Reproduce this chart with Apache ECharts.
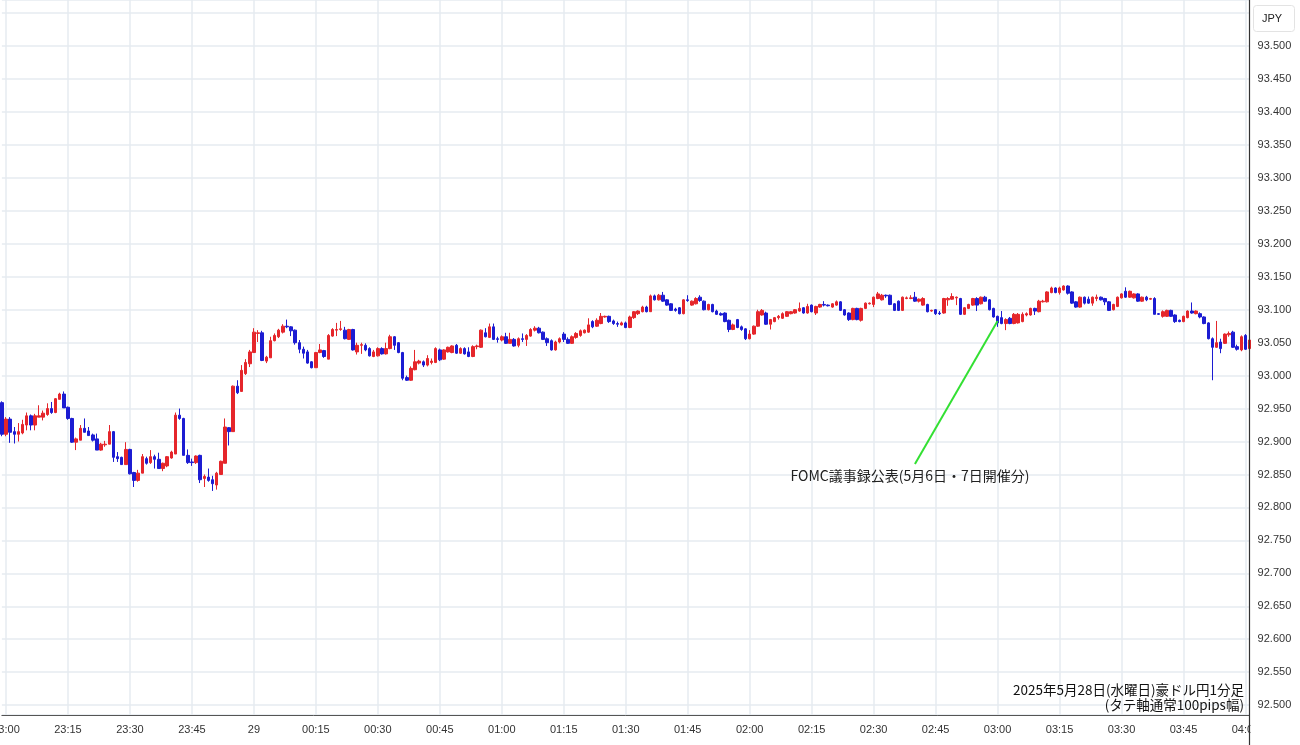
<!DOCTYPE html>
<html><head><meta charset="utf-8">
<script src="https://cdn.jsdelivr.net/npm/echarts@6/dist/echarts.min.js"></script>
<style>html,body{margin:0;padding:0;background:#fff}#c{width:1300px;height:745px}</style>
</head><body><div id="c"></div>
<script>
// minute categories 22:59 -> 04:01
const categories = [];
(function(){ let h = 22, m = 59; for (let k = 0; k < 303; k++) { categories.push(String(h).padStart(2,'0') + ':' + String(m).padStart(2,'0')); m++; if (m === 60) { m = 0; h = (h + 1) % 24; } } })();

const opens = [
92.959,92.911,92.934,92.915,92.911,92.913,92.925,92.939,92.925,92.937,
92.937,92.941,92.950,92.944,92.964,92.972,92.952,92.935,92.899,92.902,
92.920,92.916,92.910,92.904,92.887,92.895,92.896,92.915,92.877,92.876,
92.865,92.888,92.853,92.841,92.852,92.874,92.868,92.877,92.873,92.859,
92.863,92.875,92.881,92.940,92.935,92.879,92.869,92.868,92.879,92.844,
92.846,92.842,92.834,92.850,92.867,92.921,92.915,92.984,92.976,93.003,
93.018,93.035,93.064,93.065,93.022,93.027,93.053,93.059,93.066,93.075,
93.074,93.069,93.050,93.040,93.036,93.021,93.012,93.035,93.038,93.025,
93.060,93.069,93.070,93.069,93.055,93.070,93.036,93.046,93.046,93.041,
93.029,93.030,93.041,93.033,93.041,93.059,93.050,93.035,92.997,92.993,
93.009,93.019,93.021,93.016,93.020,93.020,93.039,93.025,93.036,93.035,
93.046,93.034,93.041,93.036,93.029,93.044,93.043,93.065,93.058,93.074,
93.056,93.054,93.059,93.049,93.055,93.046,93.056,93.055,93.060,93.069,
93.072,93.066,93.056,93.053,93.039,93.051,93.063,93.055,93.049,93.058,
93.061,93.065,93.066,93.082,93.075,93.079,93.089,93.090,93.083,93.079,
93.077,93.080,93.073,93.088,93.094,93.097,93.104,93.097,93.121,93.115,
93.122,93.115,93.109,93.101,93.103,93.094,93.115,93.107,93.109,93.119,
93.113,93.100,93.108,93.098,93.094,93.095,93.084,93.070,93.085,93.074,
93.071,93.056,93.063,93.075,93.092,93.095,93.078,93.082,93.088,93.087,
93.090,93.094,93.095,93.098,93.103,93.095,93.107,93.095,93.104,93.108,
93.107,93.104,93.107,93.112,93.100,93.095,93.085,93.102,93.084,93.102,
93.109,93.108,93.117,93.115,93.122,93.122,93.109,93.113,93.099,93.117,
93.117,93.119,93.113,93.107,93.108,93.098,93.100,93.095,93.095,93.115,
93.116,93.118,93.117,93.093,93.102,93.107,93.117,93.109,93.119,93.115,
93.102,93.090,93.088,93.079,93.087,93.079,93.080,93.082,93.092,93.092,
93.102,93.097,93.112,93.112,93.126,93.133,93.126,93.130,93.136,93.127,
93.112,93.104,93.119,93.116,93.110,93.117,93.119,93.117,93.112,93.100,
93.105,93.118,93.128,93.119,93.118,93.124,93.113,93.119,93.116,93.117,
93.094,93.090,93.090,93.099,93.092,93.084,93.082,93.088,93.098,93.094,
93.094,93.089,93.080,93.056,93.043,93.051,93.049,93.062,93.066,93.044,
93.039,93.061,93.041];

const closes = [
92.911,92.934,92.914,92.911,92.915,92.926,92.939,92.925,92.939,92.939,
92.943,92.950,92.944,92.965,92.972,92.951,92.935,92.899,92.904,92.920,
92.914,92.909,92.902,92.887,92.896,92.896,92.915,92.876,92.874,92.865,
92.888,92.851,92.841,92.852,92.877,92.867,92.877,92.873,92.859,92.867,
92.877,92.884,92.940,92.935,92.879,92.868,92.868,92.878,92.842,92.847,
92.841,92.836,92.852,92.870,92.922,92.915,92.984,92.974,93.008,93.020,
93.036,93.066,93.065,93.023,93.028,93.053,93.061,93.069,93.075,93.074,
93.068,93.050,93.040,93.034,93.019,93.012,93.035,93.039,93.029,93.061,
93.070,93.070,93.071,93.056,93.070,93.039,93.046,93.047,93.039,93.030,
93.036,93.041,93.033,93.041,93.059,93.046,93.035,92.996,92.993,93.011,
93.021,93.022,93.016,93.026,93.022,93.041,93.024,93.039,93.043,93.045,
93.034,93.041,93.033,93.029,93.044,93.045,93.069,93.059,93.074,93.055,
93.055,93.059,93.049,93.055,93.045,93.056,93.055,93.061,93.070,93.072,
93.065,93.055,93.050,93.039,93.051,93.056,93.055,93.049,93.059,93.064,
93.068,93.069,93.077,93.074,93.084,93.090,93.090,93.082,93.079,93.078,
93.080,93.073,93.089,93.097,93.098,93.104,93.097,93.121,93.115,93.122,
93.113,93.107,93.099,93.099,93.094,93.115,93.114,93.113,93.117,93.114,
93.100,93.108,93.097,93.093,93.092,93.082,93.070,93.077,93.073,93.070,
93.056,93.063,93.075,93.097,93.099,93.078,93.085,93.088,93.090,93.094,
93.097,93.097,93.100,93.102,93.095,93.105,93.097,93.105,93.108,93.107,
93.106,93.109,93.112,93.099,93.092,93.085,93.102,93.085,93.102,93.110,
93.110,93.119,93.124,93.122,93.121,93.108,93.099,93.099,93.119,93.118,
93.118,93.113,93.116,93.117,93.097,93.099,93.094,93.094,93.117,93.117,
93.120,93.119,93.093,93.103,93.108,93.117,93.107,93.119,93.113,93.100,
93.089,93.080,93.079,93.085,93.079,93.093,93.093,93.093,93.094,93.102,
93.098,93.113,93.113,93.127,93.133,93.126,93.133,93.136,93.125,93.110,
93.104,93.119,93.110,93.110,93.119,93.119,93.115,93.112,93.099,93.108,
93.119,93.124,93.119,93.128,93.124,93.113,93.119,93.115,93.117,93.093,
93.093,93.097,93.099,93.090,93.082,93.082,93.090,93.098,93.095,93.098,
93.089,93.079,93.056,93.043,93.050,93.041,93.063,93.064,93.043,93.040,
93.059,93.040,93.054];

const lows = [
92.908,92.908,92.898,92.897,92.900,92.911,92.917,92.917,92.917,92.937,
92.932,92.939,92.942,92.943,92.964,92.951,92.933,92.898,92.887,92.902,
92.914,92.909,92.900,92.887,92.886,92.892,92.896,92.869,92.869,92.865,
92.865,92.850,92.831,92.839,92.852,92.865,92.866,92.859,92.859,92.855,
92.861,92.874,92.881,92.933,92.879,92.866,92.863,92.866,92.837,92.831,
92.839,92.825,92.827,92.850,92.867,92.894,92.915,92.972,92.976,93.001,
93.013,93.035,93.051,93.022,93.019,93.027,93.052,93.057,93.064,93.072,
93.060,93.047,93.034,93.026,93.018,93.011,93.012,93.034,93.027,93.025,
93.059,93.060,93.068,93.055,93.054,93.038,93.032,93.033,93.037,93.029,
93.028,93.029,93.032,93.032,93.040,93.039,93.034,92.993,92.992,92.992,
93.008,93.017,93.013,93.014,93.017,93.019,93.022,93.024,93.035,93.034,
93.033,93.033,93.032,93.028,93.028,93.040,93.042,93.058,93.057,93.054,
93.050,93.052,93.048,93.049,93.044,93.043,93.051,93.045,93.059,93.067,
93.064,93.054,93.045,93.038,93.038,93.049,93.051,93.048,93.048,93.056,
93.059,93.064,93.065,93.072,93.074,93.078,93.088,93.080,93.077,93.074,
93.076,93.072,93.072,93.086,93.092,93.096,93.096,93.097,93.114,93.114,
93.112,93.106,93.098,93.097,93.093,93.093,93.112,93.106,93.108,93.112,
93.099,93.099,93.096,93.092,93.091,93.081,93.066,93.069,93.072,93.068,
93.054,93.055,93.062,93.074,93.091,93.077,93.070,93.081,93.085,93.086,
93.089,93.093,93.094,93.097,93.094,93.094,93.096,93.092,93.103,93.105,
93.105,93.103,93.106,93.098,93.091,93.083,93.084,93.084,93.082,93.101,
93.108,93.104,93.116,93.114,93.118,93.107,93.098,93.098,93.098,93.116,
93.116,93.112,93.111,93.106,93.096,93.097,93.092,93.092,93.094,93.106,
93.115,93.107,93.092,93.092,93.101,93.106,93.098,93.108,93.112,93.099,
93.088,93.074,93.078,93.069,93.078,93.078,93.079,93.081,93.090,93.091,
93.092,93.096,93.111,93.111,93.125,93.125,93.123,93.129,93.123,93.109,
93.103,93.103,93.108,93.109,93.106,93.113,93.114,93.107,93.098,93.099,
93.104,93.117,93.118,93.118,93.117,93.112,93.112,93.113,93.115,93.093,
93.092,93.088,93.089,93.089,93.080,93.081,93.081,93.087,93.094,93.093,
93.087,93.078,93.055,92.993,93.042,93.034,93.048,93.059,93.042,93.038,
93.037,93.039,93.039];

const highs = [
92.961,92.937,92.937,92.922,92.928,92.933,92.944,92.941,92.942,92.955,
92.947,92.958,92.960,92.966,92.974,92.976,92.953,92.936,92.906,92.925,
92.935,92.922,92.912,92.912,92.898,92.901,92.925,92.916,92.884,92.877,
92.899,92.889,92.854,92.857,92.881,92.877,92.887,92.880,92.883,92.868,
92.878,92.886,92.944,92.950,92.936,92.888,92.874,92.879,92.880,92.850,
92.859,92.848,92.854,92.871,92.935,92.922,92.985,92.993,93.016,93.025,
93.039,93.072,93.069,93.068,93.030,93.059,93.064,93.071,93.078,93.085,
93.075,93.070,93.054,93.044,93.039,93.022,93.036,93.048,93.039,93.063,
93.072,93.080,93.083,93.074,93.071,93.071,93.050,93.050,93.049,93.043,
93.039,93.043,93.043,93.050,93.062,93.060,93.051,93.036,93.000,93.014,
93.039,93.024,93.023,93.031,93.026,93.043,93.041,93.040,93.044,93.046,
93.048,93.043,93.043,93.043,93.046,93.047,93.070,93.072,93.079,93.079,
93.059,93.061,93.065,93.065,93.057,93.058,93.064,93.063,93.072,93.075,
93.074,93.067,93.058,93.055,93.053,93.058,93.066,93.058,93.061,93.066,
93.070,93.070,93.087,93.084,93.087,93.095,93.091,93.091,93.085,93.082,
93.082,93.082,93.091,93.098,93.099,93.106,93.106,93.123,93.123,93.124,
93.127,93.116,93.110,93.103,93.104,93.116,93.122,93.114,93.119,93.122,
93.114,93.109,93.109,93.100,93.096,93.096,93.085,93.079,93.086,93.076,
93.072,93.069,93.076,93.100,93.101,93.097,93.086,93.089,93.092,93.096,
93.098,93.098,93.101,93.111,93.104,93.109,93.108,93.106,93.109,93.113,
93.108,93.110,93.114,93.113,93.101,93.096,93.103,93.103,93.103,93.111,
93.111,93.120,93.127,93.124,93.123,93.123,93.110,93.114,93.120,93.120,
93.122,93.127,93.117,93.119,93.109,93.100,93.101,93.098,93.118,93.119,
93.125,93.120,93.118,93.104,93.109,93.118,93.119,93.120,93.121,93.116,
93.103,93.091,93.098,93.087,93.089,93.095,93.095,93.096,93.096,93.103,
93.103,93.115,93.115,93.128,93.135,93.134,93.135,93.137,93.137,93.128,
93.113,93.120,93.120,93.120,93.120,93.123,93.120,93.118,93.113,93.109,
93.120,93.125,93.134,93.129,93.125,93.125,93.120,93.121,93.118,93.119,
93.095,93.099,93.100,93.100,93.093,93.085,93.091,93.099,93.111,93.099,
93.096,93.090,93.081,93.058,93.083,93.056,93.064,93.067,93.068,93.047,
93.061,93.063,93.056];

// annotation anchor (time, price) pairs
const annotationFrom = ['02:40', 92.866];
const annotationTo = ['03:00', 93.083];
const annotationText = 'FOMC議事録公表(5月6日・7日開催分)';
const captionLines = ['2025年5月28日(水曜日)豪ドル円1分足', '(タテ軸通常100pips幅)'];
const yRange = [92.485, 93.57];

const candleData = opens.map((o, i) => [o, closes[i], lows[i], highs[i]]);

const UP = '#e5262b', DOWN = '#1c1cd2';
const isLabel = (idx, val) => { const mm = +val.slice(3); return mm % 15 === 0 && idx > 0; };

const chart = echarts.init(document.getElementById('c'), null, {renderer: 'canvas'});
chart.setOption({
  animation: false,
  backgroundColor: '#ffffff',
  grid: {left: 1.87, right: 50.4, top: 0, bottom: 30, containLabel: false, outerBoundsMode: 'none'},
  xAxis: {
    type: 'category',
    data: categories,
    boundaryGap: false,
    axisLine: {show: true, lineStyle: {color: '#555', width: 1}},
    axisTick: {show: false},
    axisLabel: {
      interval: isLabel,
      margin: 9,
      color: '#333',
      fontSize: 11,
      hideOverlap: false,
      fontFamily: 'Liberation Sans, Arial, sans-serif',
      formatter: v => v === '00:00' ? '29' : v
    },
    splitLine: {show: true, interval: isLabel, lineStyle: {color: '#e6ebf1', width: 1.5}}
  },
  yAxis: {
    type: 'value',
    position: 'right',
    min: yRange[0],
    max: yRange[1],
    splitNumber: 22,
    minInterval: 0.05,
    maxInterval: 0.05,
    scale: true,
    axisLine: {show: false},
    axisTick: {show: false},
    axisLabel: {
      showMinLabel: false,
      showMaxLabel: false,
      margin: 8,
      color: '#333',
      fontSize: 11,
      fontFamily: 'Liberation Sans, Arial, sans-serif',
      formatter: v => v.toFixed(3)
    },
    splitLine: {show: true, lineStyle: {color: '#e6ebf1', width: 1.5}}
  },
  series: [{
    type: 'candlestick',
    data: candleData,
    barWidth: 3,
    itemStyle: {
      color: UP, color0: DOWN, borderColor: UP, borderColor0: DOWN, borderWidth: 1
    },
    markLine: {
      silent: true,
      symbol: ['none', 'none'],
      label: {show: false},
      lineStyle: {color: '#33e033', width: 2, type: 'solid'},
      data: [[{coord: annotationFrom}, {coord: annotationTo}]]
    }
  }],
  graphic: [
    {type: 'rect', z: 50, shape: {x: 1250.5, y: 716, width: 50, height: 29}, style: {fill: '#fff'}},
    {type: 'line', z: 60, shape: {x1: 1249.5, y1: 0, x2: 1249.5, y2: 745}, style: {stroke: '#333', lineWidth: 1.2}},
    {type: 'rect', z: 60, shape: {x: 1253.5, y: 5.5, width: 41, height: 26, r: 3}, style: {fill: '#fff', stroke: '#e3e3e3', lineWidth: 1}},
    {type: 'text', z: 61, style: {x: 1272, y: 19, text: 'JPY', textAlign: 'center', textVerticalAlign: 'middle', fill: '#222', font: '11px "Liberation Sans", Arial, sans-serif'}},
    {type: 'text', z: 61, style: {x: 910, y: 476, text: annotationText, textAlign: 'center', textVerticalAlign: 'middle', fill: '#222', font: '14px "Noto Sans CJK JP", sans-serif'}},
    {type: 'text', z: 61, style: {x: 1244, y: 690, text: captionLines[0], textAlign: 'right', textVerticalAlign: 'middle', fill: '#111', font: '13.5px "Noto Sans CJK JP", sans-serif'}},
    {type: 'text', z: 61, style: {x: 1244, y: 705, text: captionLines[1], textAlign: 'right', textVerticalAlign: 'middle', fill: '#111', font: '13.5px "Noto Sans CJK JP", sans-serif'}}
  ]
});
</script></body></html>
